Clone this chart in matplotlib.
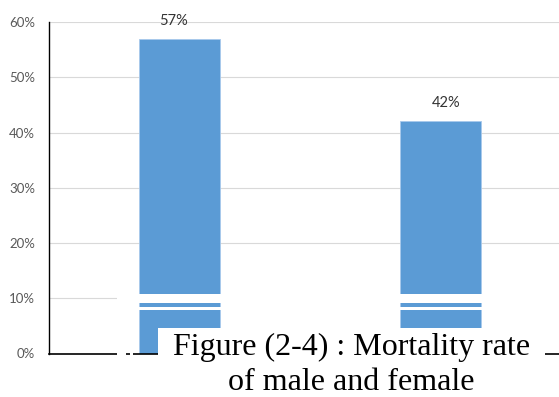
import matplotlib
matplotlib.use("Agg")
import matplotlib.pyplot as plt
from matplotlib.patches import Rectangle
from matplotlib.ticker import PercentFormatter

# mortality by sex
groups = ["Male", "Female"]
rates = [0.57, 0.42]
rate_labels = ["57%", "42%"]
y_ticks = [0, 0.1, 0.2, 0.3, 0.4, 0.5, 0.6]
caption = ["Figure (2-4) : Mortality rate", "of male and female"]

W, H = 559, 397
fig = plt.figure(figsize=(W / 100, H / 100), dpi=100)


def px_box(x0, y0, x1, y1):
    # pixel box (top-left origin) -> figure fraction rect
    return (x0 / W, (H - y1) / H, (x1 - x0) / W, (y1 - y0) / H)


ax = fig.add_axes(px_box(49, 22, 571, 353.5))
xs = range(len(groups))
ax.bar(xs, rates, width=0.3125, color="#5B9BD5", edgecolor="#A8C9EC",
       linewidth=0.6, zorder=2)

for i, (v, lab) in enumerate(zip(rates, rate_labels)):
    dx = -4 if i == 0 else 4
    ax.annotate(lab, (i, v), xytext=(dx, 13), textcoords="offset points",
                ha="center", va="center", fontsize=10.5, color="#333333",
                family="Lato")

ax.set_xlim(-0.5, 1.5)
ax.set_ylim(0, 0.6)
ax.set_yticks(y_ticks)
ax.yaxis.set_major_formatter(PercentFormatter(1.0, decimals=0))
ax.set_xticks([])
ax.tick_params(axis="y", length=0, pad=10, labelsize=9.5, labelcolor="#595959")
for t in ax.get_yticklabels():
    t.set_family("Lato")
ax.grid(axis="y", color="#D9D9D9", linewidth=0.8, zorder=0)
ax.set_axisbelow(True)
for s in ["top", "right"]:
    ax.spines[s].set_visible(False)
ax.spines["left"].set_color("black")
ax.spines["left"].set_linewidth(1.0)
ax.spines["bottom"].set_color("black")
ax.spines["bottom"].set_linewidth(1.2)
ax.spines["bottom"].set_zorder(3)

# white strips and caption box laid over the chart
covers = [
    (117, 294, W, 303.3),
    (117, 307, W, 310),
    (117, 294, 126, 358),
    (130, 350, 133, 358),
    (158, 328.3, 545, H),
]
for x0, y0, x1, y1 in covers:
    l, b, w, h = px_box(x0, y0, x1, y1)
    fig.add_artist(Rectangle((l, b), w, h, transform=fig.transFigure,
                             facecolor="white", edgecolor="none", zorder=10))

for line, base in zip(caption, [354.5, 390.5]):
    fig.text(351.5 / W, (H - base) / H, line, ha="center", va="baseline",
             fontsize=23, family="Liberation Serif", color="black", zorder=11)

fig.savefig("out.png", dpi=100)
